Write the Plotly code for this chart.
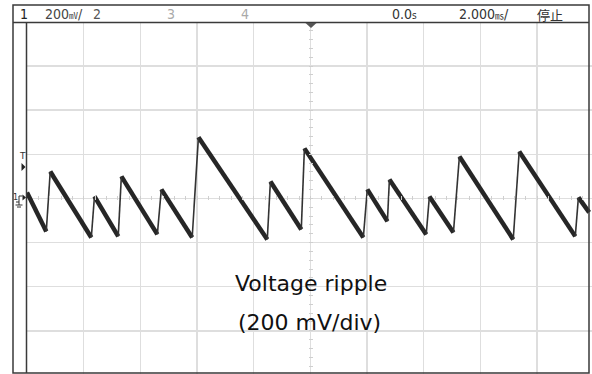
import plotly.graph_objects as go

# ---- data (time in ms, voltage in mV) : vertices of the ripple waveform ----
t_ms = [-10.0, -9.32, -9.18, -7.73, -7.62, -6.78, -6.67, -5.40, -5.26, -4.17, -3.95,
        -1.52, -1.41, -0.32, -0.21, 1.87, 2.01, 2.72, 2.79, 4.09, 4.20, 5.05, 5.26,
        7.16, 7.37, 9.35, 9.46, 9.84]
v_mV = [27, -150, 122, -177, 9, -172, 100, -163, 41, -177, 277,
        -186, 77, -141, 227, -177, 41, -104, 86, -163, 9, -154, 190,
        -186, 213, -172, 5, -63]

header_left = ["1", "200<span style='font-size:9px;font-family:Noto Sans CJK JP'>㎷</span>/", "2", "3", "4"]
header_right = ["0.0<span style='font-size:10px'>s</span>",
                "2.000<span style='font-size:9px;font-family:Noto Sans CJK JP'>㎳</span>/", "停止"]
caption = ["Voltage ripple", "(200 mV/div)"]

W, H = 592, 374
ML, MT = 27, 22
PW, PH = W - ML, H - MT


def pxp(x):  # pixel x -> paper
    return (x - ML) / PW


def pyp(y):  # pixel y -> paper
    return (H - y) / PH


# split into falling (thick, noisy) and rising (thin) segments
fx, fy, rx, ry = [], [], [], []
for i in range(len(t_ms) - 1):
    if i % 2 == 0:
        fx += [t_ms[i], t_ms[i + 1], None]
        fy += [v_mV[i], v_mV[i + 1], None]
    else:
        rx += [t_ms[i], t_ms[i + 1], None]
        ry += [v_mV[i], v_mV[i + 1], None]

fig = go.Figure()
fig.add_trace(go.Scatter(x=fx, y=fy, mode="lines",
                         line=dict(color="#262626", width=4.5), hoverinfo="skip"))
fig.add_trace(go.Scatter(x=rx, y=ry, mode="lines",
                         line=dict(color="#333333", width=1.6), hoverinfo="skip"))

grid = "#dedede"
fig.update_layout(
    width=W, height=H,
    margin=dict(l=ML, r=0, t=MT, b=0),
    paper_bgcolor="white", plot_bgcolor="white",
    showlegend=False,
    xaxis=dict(range=[-10, 9.94], dtick=2, tick0=0, showgrid=True, gridcolor=grid,
               gridwidth=1.5, zeroline=True, zerolinecolor=grid, zerolinewidth=1.5,
               showticklabels=False, ticks="", fixedrange=True),
    yaxis=dict(range=[-796, 800], dtick=200, tick0=0, showgrid=True, gridcolor=grid,
               gridwidth=1.5, zeroline=True, zerolinecolor=grid, zerolinewidth=1.5,
               showticklabels=False, ticks="", fixedrange=True),
    # minor tick marks on the centre cross
    xaxis2=dict(overlaying="x", matches="x", anchor="free", position=pyp(200),
                dtick=0.4, tick0=0, ticks="inside", ticklen=4, tickcolor="#cfcfcf",
                tickwidth=1, showticklabels=False, showgrid=False, zeroline=False,
                showline=False),
    yaxis2=dict(overlaying="y", matches="y", anchor="free", position=pxp(308.3),
                dtick=40, tick0=0, ticks="inside", ticklen=4, tickcolor="#cfcfcf",
                tickwidth=1, showticklabels=False, showgrid=False, zeroline=False,
                showline=False),
)
# invisible traces so the tick axes render
fig.add_trace(go.Scatter(x=[0], y=[0], xaxis="x2", yaxis="y", mode="none", hoverinfo="skip"))
fig.add_trace(go.Scatter(x=[0], y=[0], xaxis="x", yaxis="y2", mode="none", hoverinfo="skip"))

dark = "#3a3a3a"
shapes = [
    dict(type="rect", xref="paper", yref="paper", x0=pxp(13), x1=pxp(589),
         y0=pyp(373), y1=pyp(5), line=dict(color=dark, width=1.5)),
    dict(type="line", xref="paper", yref="paper", x0=pxp(13), x1=pxp(589),
         y0=pyp(22.5), y1=pyp(22.5), line=dict(color=dark, width=1.5)),
    dict(type="line", xref="paper", yref="paper", x0=pxp(26.5), x1=pxp(26.5),
         y0=pyp(373), y1=pyp(22.5), line=dict(color=dark, width=1.5)),
    # trigger position marker (top centre)
    dict(type="path", xref="paper", yref="paper",
         path=f"M {pxp(305.5)},{pyp(23)} L {pxp(316.5)},{pyp(23)} L {pxp(311)},{pyp(28)} Z",
         fillcolor="#555555", line=dict(width=0)),
    # trigger level marker (left)
    dict(type="path", xref="paper", yref="paper",
         path=f"M {pxp(21.5)},{pyp(163)} L {pxp(25.5)},{pyp(167)} L {pxp(21.5)},{pyp(171)} Z",
         fillcolor="#222222", line=dict(width=0)),
    # channel 1 ground marker
    dict(type="path", xref="paper", yref="paper",
         path=f"M {pxp(22.5)},{pyp(194.5)} L {pxp(26)},{pyp(197.5)} L {pxp(22.5)},{pyp(200.5)} Z",
         fillcolor="#222222", line=dict(width=0)),
    dict(type="path", xref="paper", yref="paper",
         path=(f"M {pxp(16)},{pyp(202)} L {pxp(19)},{pyp(202)} L {pxp(19)},{pyp(196)} "
               f"L {pxp(22.5)},{pyp(196)}"),
         line=dict(color="#333333", width=1)),
    dict(type="line", xref="paper", yref="paper", x0=pxp(19), x1=pxp(19),
         y0=pyp(202), y1=pyp(205), line=dict(color="#333333", width=1)),
    dict(type="line", xref="paper", yref="paper", x0=pxp(15.5), x1=pxp(22.5),
         y0=pyp(205), y1=pyp(205), line=dict(color="#333333", width=1)),
    dict(type="line", xref="paper", yref="paper", x0=pxp(17), x1=pxp(21),
         y0=pyp(207), y1=pyp(207), line=dict(color="#333333", width=1)),
]
fig.update_layout(shapes=shapes)

hfont = "Liberation Sans Narrow, Arial Narrow, DejaVu Sans Condensed, sans-serif"
ann = []
left_pos = [(17.5, "#222222"), (42.5, "#444444"), (90.5, "#555555"), (164.5, "#aaaaaa"),
            (238.5, "#aaaaaa")]
for txt, (x, c) in zip(header_left, left_pos):
    ann.append(dict(text=txt, xref="paper", yref="paper", x=pxp(x), y=pyp(14),
                    xanchor="left", yanchor="middle", showarrow=False,
                    font=dict(family=hfont, size=14, color=c)))
right_pos = [389.5, 456.5, 534.5]
for txt, x in zip(header_right, right_pos):
    fam = "Noto Sans CJK JP" if txt == "停止" else hfont
    ann.append(dict(text=txt, xref="paper", yref="paper", x=pxp(x), y=pyp(14),
                    xanchor="left", yanchor="middle", showarrow=False,
                    font=dict(family=fam, size=13 if txt == "停止" else 14, color="#333333")))
# left gutter labels
ann.append(dict(text="T", xref="paper", yref="paper", x=pxp(22), y=pyp(156),
                xanchor="center", yanchor="middle", showarrow=False,
                font=dict(family="DejaVu Sans", size=9, color="#333333")))
ann.append(dict(text="1", xref="paper", yref="paper", x=pxp(15.5), y=pyp(197),
                xanchor="center", yanchor="middle", showarrow=False,
                font=dict(family="DejaVu Sans", size=8, color="#333333")))
# caption
for txt, (x, y) in zip(caption, [(311, 283), (309, 322)]):
    ann.append(dict(text=txt, xref="paper", yref="paper", x=pxp(x), y=pyp(y),
                    xanchor="center", yanchor="middle", showarrow=False,
                    font=dict(family="DejaVu Sans", size=22, color="#111111")))
fig.update_layout(annotations=ann)

fig.write_html("out.html", config={"displayModeBar": False, "staticPlot": True},
               post_script="document.body.style.margin='0';")
